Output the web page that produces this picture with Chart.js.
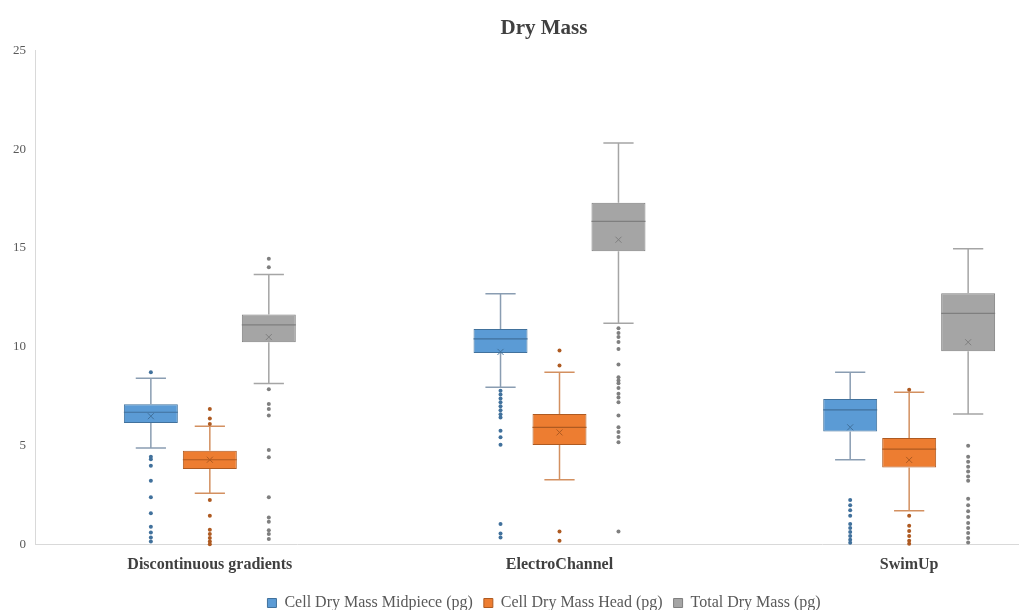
<!DOCTYPE html>
<html>
<head>
<meta charset="utf-8">
<script src="https://cdn.jsdelivr.net/npm/chart.js@4.4.0/dist/chart.umd.min.js"></script>
<style>
  html, body { margin: 0; padding: 0; background: #fff; overflow: hidden; }
  #wrap { width: 1086px; height: 610px; }
</style>
</head>
<body>
<div id="wrap"><canvas id="boxChart"></canvas></div>
<script>
const categories = ['Discontinuous gradients', 'ElectroChannel', 'SwimUp'];
const seriesNames = ['Cell Dry Mass Midpiece (pg)', 'Cell Dry Mass Head (pg)', 'Total Dry Mass (pg)'];

// [min whisker, q1, median, q3, max whisker, mean]
const midpieceStats = [
  [4.89, 6.16, 6.7, 7.1, 8.42, 6.5],
  [7.96, 9.7, 10.41, 10.91, 12.69, 9.75],
  [4.3, 5.73, 6.82, 7.37, 8.72, 5.94]
];
const headStats = [
  [2.6, 3.83, 4.3, 4.76, 5.99, 4.3],
  [3.29, 5.05, 5.94, 6.61, 8.72, 5.68],
  [1.72, 3.91, 4.84, 5.4, 7.71, 4.29]
];
const totalStats = [
  [8.15, 10.24, 11.12, 11.64, 13.66, 10.5],
  [11.2, 14.84, 16.35, 17.29, 20.31, 15.42],
  [6.61, 9.78, 11.7, 12.72, 14.96, 10.24]
];

const midpieceOutliers = [
  [8.72, 4.45, 4.32, 4.0, 3.24, 2.4, 1.59, 0.91, 0.62, 0.37, 0.17],
  [7.79, 7.6, 7.4, 7.2, 7.0, 6.8, 6.6, 6.44, 5.77, 5.43, 5.06, 1.05, 0.57, 0.37],
  [2.26, 2.0, 1.75, 1.47, 1.05, 0.85, 0.65, 0.45, 0.25, 0.1]
];
const headOutliers = [
  [6.87, 6.39, 6.1, 2.26, 1.47, 0.76, 0.54, 0.34, 0.17, 0.03],
  [9.82, 9.06, 0.67, 0.2],
  [7.84, 1.47, 0.96, 0.7, 0.45, 0.2, 0.05]
];
const totalOutliers = [
  [14.46, 14.03, 7.86, 7.12, 6.87, 6.53, 4.79, 4.42, 2.4, 1.38, 1.16, 0.74, 0.54, 0.29],
  [10.95, 10.7, 10.5, 10.25, 9.9, 9.11, 8.47, 8.3, 8.16, 7.93, 7.63, 7.45, 7.2, 6.53, 5.94, 5.7, 5.45, 5.18, 0.67],
  [5.01, 4.45, 4.2, 3.95, 3.7, 3.45, 3.24, 2.33, 2.0, 1.7, 1.4, 1.1, 0.85, 0.6, 0.35, 0.12]
];

const yTicks = [0, 5, 10, 15, 20, 25];

const fills = ['#5b9bd5', '#ed7d31', '#a5a5a5'];
const borders = ['#41719c', '#ae5a21', '#7f7f7f'];
const whiskerColors = ['#8a9db2', '#d39060', '#a5a5a5'];

const allStats = [midpieceStats, headStats, totalStats];
const allOutliers = [midpieceOutliers, headOutliers, totalOutliers];

const serif = "'Liberation Serif', 'DejaVu Serif', serif";

const boxPlugin = {
  id: 'boxExtras',
  afterDatasetsDraw(chart) {
    const ctx = chart.ctx;
    const y = chart.scales.y;
    allStats.forEach((stats, s) => {
      const meta = chart.getDatasetMeta(s);
      meta.data.forEach((bar, j) => {
        const st = stats[j];
        const x = bar.x;
        const w = bar.width;
        const cap = w * 0.28;
        ctx.save();
        // whiskers
        ctx.strokeStyle = whiskerColors[s];
        ctx.lineWidth = 1.5;
        ctx.beginPath();
        ctx.moveTo(x, y.getPixelForValue(st[3]));
        ctx.lineTo(x, y.getPixelForValue(st[4]));
        ctx.moveTo(x - cap, y.getPixelForValue(st[4]));
        ctx.lineTo(x + cap, y.getPixelForValue(st[4]));
        ctx.moveTo(x, y.getPixelForValue(st[1]));
        ctx.lineTo(x, y.getPixelForValue(st[0]));
        ctx.moveTo(x - cap, y.getPixelForValue(st[0]));
        ctx.lineTo(x + cap, y.getPixelForValue(st[0]));
        ctx.stroke();
        // median
        ctx.strokeStyle = borders[s];
        ctx.lineWidth = 1.2;
        ctx.beginPath();
        const my = y.getPixelForValue(st[2]);
        ctx.moveTo(x - w / 2, my);
        ctx.lineTo(x + w / 2, my);
        ctx.stroke();
        // mean marker
        const ay = y.getPixelForValue(st[5]);
        ctx.lineWidth = 1;
        ctx.beginPath();
        ctx.moveTo(x - 3, ay - 3);
        ctx.lineTo(x + 3, ay + 3);
        ctx.moveTo(x + 3, ay - 3);
        ctx.lineTo(x - 3, ay + 3);
        ctx.stroke();
        // outliers
        ctx.fillStyle = borders[s];
        allOutliers[s][j].forEach(v => {
          ctx.beginPath();
          ctx.arc(x, y.getPixelForValue(v), 2, 0, Math.PI * 2);
          ctx.fill();
        });
        ctx.restore();
      });
    });
  }
};

new Chart(document.getElementById('boxChart').getContext('2d'), {
  type: 'bar',
  data: {
    labels: categories,
    datasets: allStats.map((stats, s) => ({
      label: seriesNames[s],
      data: stats.map(st => [st[1], st[3]]),
      backgroundColor: fills[s],
      borderColor: borders[s],
      borderWidth: 1,
      borderSkipped: false,
      categoryPercentage: 0.506,
      barPercentage: 0.915
    }))
  },
  options: {
    responsive: true,
    maintainAspectRatio: false,
    animation: false,
    layout: { padding: { left: 4, right: 2, top: 0, bottom: -11 } },
    plugins: {
      title: {
        display: true,
        text: 'Dry Mass',
        color: '#404040',
        font: { family: serif, size: 21, weight: 'bold' },
        padding: { top: 16, bottom: 9 }
      },
      legend: {
        position: 'bottom',
        labels: {
          boxWidth: 9,
          boxHeight: 9,
          color: '#595959',
          font: { family: serif, size: 16 },
          padding: 11
        }
      },
      tooltip: { enabled: false }
    },
    scales: {
      x: {
        grid: { display: false, drawTicks: false },
        border: { color: '#d9d9d9' },
        ticks: {
          color: '#404040',
          font: { family: serif, size: 16, weight: 'bold' },
          padding: 10
        }
      },
      y: {
        min: 0,
        max: 25,
        afterBuildTicks: axis => { axis.ticks = yTicks.map(v => ({ value: v })); },
        grid: { display: false, drawTicks: false },
        border: { color: '#d9d9d9' },
        ticks: {
          color: '#595959',
          font: { family: serif, size: 13 },
          padding: 9
        }
      }
    }
  },
  plugins: [boxPlugin]
});
</script>
</body>
</html>
